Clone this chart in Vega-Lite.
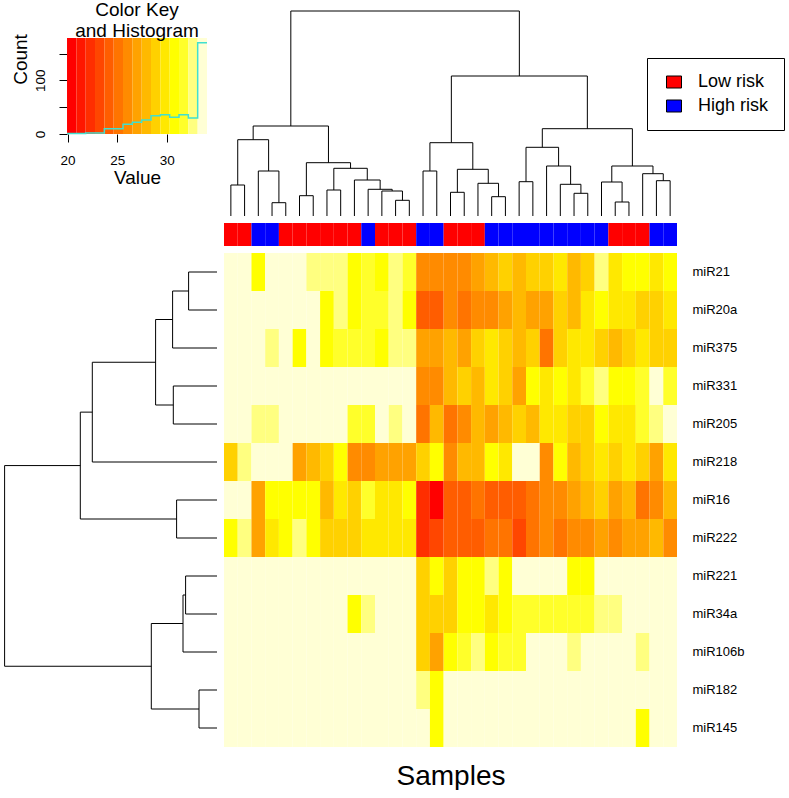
{
  "$schema": "https://vega.github.io/schema/vega-lite/v6.json",
  "padding": 0,
  "background": "white",
  "config": {
    "font": "Liberation Sans",
    "view": {"stroke": null},
    "axis": {"labelColor": "black", "titleColor": "black", "tickColor": "black", "domainColor": "black", "grid": false},
    "title": {"color": "black"}
  },
  "datasets": {
    "heat": [
      {"gene":"miR21","col":1,"value":33.58},{"gene":"miR21","col":2,"value":33.58},{"gene":"miR21","col":3,"value":30.76},{"gene":"miR21","col":4,"value":33.58},{"gene":"miR21","col":5,"value":33.58},{"gene":"miR21","col":6,"value":33.58},{"gene":"miR21","col":7,"value":32.64},{"gene":"miR21","col":8,"value":32.64},{"gene":"miR21","col":9,"value":32.64},{"gene":"miR21","col":10,"value":30.76},{"gene":"miR21","col":11,"value":31.7},{"gene":"miR21","col":12,"value":30.76},{"gene":"miR21","col":13,"value":32.64},{"gene":"miR21","col":14,"value":31.7},{"gene":"miR21","col":15,"value":26.06},{"gene":"miR21","col":16,"value":26.06},{"gene":"miR21","col":17,"value":26.06},{"gene":"miR21","col":18,"value":26.06},{"gene":"miR21","col":19,"value":27},{"gene":"miR21","col":20,"value":27.94},{"gene":"miR21","col":21,"value":28.88},{"gene":"miR21","col":22,"value":27.94},{"gene":"miR21","col":23,"value":28.88},{"gene":"miR21","col":24,"value":28.88},{"gene":"miR21","col":25,"value":29.82},{"gene":"miR21","col":26,"value":27.94},{"gene":"miR21","col":27,"value":28.88},{"gene":"miR21","col":28,"value":32.64},{"gene":"miR21","col":29,"value":29.82},{"gene":"miR21","col":30,"value":30.76},{"gene":"miR21","col":31,"value":30.76},{"gene":"miR21","col":32,"value":29.82},{"gene":"miR21","col":33,"value":30.76},
      {"gene":"miR20a","col":1,"value":33.58},{"gene":"miR20a","col":2,"value":33.58},{"gene":"miR20a","col":3,"value":33.58},{"gene":"miR20a","col":4,"value":33.58},{"gene":"miR20a","col":5,"value":33.58},{"gene":"miR20a","col":6,"value":33.58},{"gene":"miR20a","col":7,"value":33.58},{"gene":"miR20a","col":8,"value":30.76},{"gene":"miR20a","col":9,"value":32.64},{"gene":"miR20a","col":10,"value":30.76},{"gene":"miR20a","col":11,"value":31.7},{"gene":"miR20a","col":12,"value":31.7},{"gene":"miR20a","col":13,"value":32.64},{"gene":"miR20a","col":14,"value":30.76},{"gene":"miR20a","col":15,"value":24.18},{"gene":"miR20a","col":16,"value":24.18},{"gene":"miR20a","col":17,"value":26.06},{"gene":"miR20a","col":18,"value":25.12},{"gene":"miR20a","col":19,"value":26.06},{"gene":"miR20a","col":20,"value":26.06},{"gene":"miR20a","col":21,"value":27},{"gene":"miR20a","col":22,"value":27.94},{"gene":"miR20a","col":23,"value":27},{"gene":"miR20a","col":24,"value":27},{"gene":"miR20a","col":25,"value":28.88},{"gene":"miR20a","col":26,"value":27.94},{"gene":"miR20a","col":27,"value":29.82},{"gene":"miR20a","col":28,"value":30.76},{"gene":"miR20a","col":29,"value":29.82},{"gene":"miR20a","col":30,"value":29.82},{"gene":"miR20a","col":31,"value":28.88},{"gene":"miR20a","col":32,"value":28.88},{"gene":"miR20a","col":33,"value":29.82},
      {"gene":"miR375","col":1,"value":33.58},{"gene":"miR375","col":2,"value":33.58},{"gene":"miR375","col":3,"value":33.58},{"gene":"miR375","col":4,"value":32.64},{"gene":"miR375","col":5,"value":33.58},{"gene":"miR375","col":6,"value":30.76},{"gene":"miR375","col":7,"value":33.58},{"gene":"miR375","col":8,"value":30.76},{"gene":"miR375","col":9,"value":31.7},{"gene":"miR375","col":10,"value":31.7},{"gene":"miR375","col":11,"value":31.7},{"gene":"miR375","col":12,"value":30.76},{"gene":"miR375","col":13,"value":32.64},{"gene":"miR375","col":14,"value":32.64},{"gene":"miR375","col":15,"value":27},{"gene":"miR375","col":16,"value":27},{"gene":"miR375","col":17,"value":27.94},{"gene":"miR375","col":18,"value":27},{"gene":"miR375","col":19,"value":28.88},{"gene":"miR375","col":20,"value":29.82},{"gene":"miR375","col":21,"value":28.88},{"gene":"miR375","col":22,"value":27.94},{"gene":"miR375","col":23,"value":28.88},{"gene":"miR375","col":24,"value":25.12},{"gene":"miR375","col":25,"value":28.88},{"gene":"miR375","col":26,"value":29.82},{"gene":"miR375","col":27,"value":29.82},{"gene":"miR375","col":28,"value":28.88},{"gene":"miR375","col":29,"value":27.94},{"gene":"miR375","col":30,"value":28.88},{"gene":"miR375","col":31,"value":29.82},{"gene":"miR375","col":32,"value":28.88},{"gene":"miR375","col":33,"value":28.88},
      {"gene":"miR331","col":1,"value":33.58},{"gene":"miR331","col":2,"value":33.58},{"gene":"miR331","col":3,"value":33.58},{"gene":"miR331","col":4,"value":33.58},{"gene":"miR331","col":5,"value":33.58},{"gene":"miR331","col":6,"value":33.58},{"gene":"miR331","col":7,"value":33.58},{"gene":"miR331","col":8,"value":33.58},{"gene":"miR331","col":9,"value":33.58},{"gene":"miR331","col":10,"value":33.58},{"gene":"miR331","col":11,"value":33.58},{"gene":"miR331","col":12,"value":33.58},{"gene":"miR331","col":13,"value":33.58},{"gene":"miR331","col":14,"value":33.58},{"gene":"miR331","col":15,"value":26.06},{"gene":"miR331","col":16,"value":26.06},{"gene":"miR331","col":17,"value":27.94},{"gene":"miR331","col":18,"value":28.88},{"gene":"miR331","col":19,"value":27.94},{"gene":"miR331","col":20,"value":29.82},{"gene":"miR331","col":21,"value":28.88},{"gene":"miR331","col":22,"value":27},{"gene":"miR331","col":23,"value":30.76},{"gene":"miR331","col":24,"value":29.82},{"gene":"miR331","col":25,"value":30.76},{"gene":"miR331","col":26,"value":29.82},{"gene":"miR331","col":27,"value":31.7},{"gene":"miR331","col":28,"value":32.64},{"gene":"miR331","col":29,"value":30.76},{"gene":"miR331","col":30,"value":30.76},{"gene":"miR331","col":31,"value":31.7},{"gene":"miR331","col":32,"value":33.58},{"gene":"miR331","col":33,"value":31.7},
      {"gene":"miR205","col":1,"value":33.58},{"gene":"miR205","col":2,"value":33.58},{"gene":"miR205","col":3,"value":32.64},{"gene":"miR205","col":4,"value":32.64},{"gene":"miR205","col":5,"value":33.58},{"gene":"miR205","col":6,"value":33.58},{"gene":"miR205","col":7,"value":33.58},{"gene":"miR205","col":8,"value":33.58},{"gene":"miR205","col":9,"value":33.58},{"gene":"miR205","col":10,"value":31.7},{"gene":"miR205","col":11,"value":31.7},{"gene":"miR205","col":12,"value":33.58},{"gene":"miR205","col":13,"value":32.64},{"gene":"miR205","col":14,"value":33.58},{"gene":"miR205","col":15,"value":25.12},{"gene":"miR205","col":16,"value":27.94},{"gene":"miR205","col":17,"value":25.12},{"gene":"miR205","col":18,"value":26.06},{"gene":"miR205","col":19,"value":27.94},{"gene":"miR205","col":20,"value":27},{"gene":"miR205","col":21,"value":27.94},{"gene":"miR205","col":22,"value":28.88},{"gene":"miR205","col":23,"value":27.94},{"gene":"miR205","col":24,"value":29.82},{"gene":"miR205","col":25,"value":29.82},{"gene":"miR205","col":26,"value":28.88},{"gene":"miR205","col":27,"value":28.88},{"gene":"miR205","col":28,"value":30.76},{"gene":"miR205","col":29,"value":29.82},{"gene":"miR205","col":30,"value":29.82},{"gene":"miR205","col":31,"value":31.7},{"gene":"miR205","col":32,"value":32.64},{"gene":"miR205","col":33,"value":33.58},
      {"gene":"miR218","col":1,"value":28.88},{"gene":"miR218","col":2,"value":32.64},{"gene":"miR218","col":3,"value":33.58},{"gene":"miR218","col":4,"value":33.58},{"gene":"miR218","col":5,"value":33.58},{"gene":"miR218","col":6,"value":27},{"gene":"miR218","col":7,"value":27.94},{"gene":"miR218","col":8,"value":28.88},{"gene":"miR218","col":9,"value":30.76},{"gene":"miR218","col":10,"value":26.06},{"gene":"miR218","col":11,"value":26.06},{"gene":"miR218","col":12,"value":27},{"gene":"miR218","col":13,"value":27},{"gene":"miR218","col":14,"value":27},{"gene":"miR218","col":15,"value":28.88},{"gene":"miR218","col":16,"value":30.76},{"gene":"miR218","col":17,"value":26.06},{"gene":"miR218","col":18,"value":27.94},{"gene":"miR218","col":19,"value":27.94},{"gene":"miR218","col":20,"value":30.76},{"gene":"miR218","col":21,"value":29.82},{"gene":"miR218","col":22,"value":33.58},{"gene":"miR218","col":23,"value":33.58},{"gene":"miR218","col":24,"value":26.06},{"gene":"miR218","col":25,"value":30.76},{"gene":"miR218","col":26,"value":27.94},{"gene":"miR218","col":27,"value":28.88},{"gene":"miR218","col":28,"value":29.82},{"gene":"miR218","col":29,"value":28.88},{"gene":"miR218","col":30,"value":29.82},{"gene":"miR218","col":31,"value":28.88},{"gene":"miR218","col":32,"value":27},{"gene":"miR218","col":33,"value":29.82},
      {"gene":"miR16","col":1,"value":33.58},{"gene":"miR16","col":2,"value":33.58},{"gene":"miR16","col":3,"value":27},{"gene":"miR16","col":4,"value":30.76},{"gene":"miR16","col":5,"value":30.76},{"gene":"miR16","col":6,"value":30.76},{"gene":"miR16","col":7,"value":30.76},{"gene":"miR16","col":8,"value":27.94},{"gene":"miR16","col":9,"value":29.82},{"gene":"miR16","col":10,"value":28.88},{"gene":"miR16","col":11,"value":31.7},{"gene":"miR16","col":12,"value":29.82},{"gene":"miR16","col":13,"value":29.82},{"gene":"miR16","col":14,"value":30.76},{"gene":"miR16","col":15,"value":22.3},{"gene":"miR16","col":16,"value":20.42},{"gene":"miR16","col":17,"value":24.18},{"gene":"miR16","col":18,"value":24.18},{"gene":"miR16","col":19,"value":25.12},{"gene":"miR16","col":20,"value":24.18},{"gene":"miR16","col":21,"value":24.18},{"gene":"miR16","col":22,"value":24.18},{"gene":"miR16","col":23,"value":25.12},{"gene":"miR16","col":24,"value":26.06},{"gene":"miR16","col":25,"value":26.06},{"gene":"miR16","col":26,"value":27},{"gene":"miR16","col":27,"value":27.94},{"gene":"miR16","col":28,"value":28.88},{"gene":"miR16","col":29,"value":27},{"gene":"miR16","col":30,"value":27.94},{"gene":"miR16","col":31,"value":25.12},{"gene":"miR16","col":32,"value":26.06},{"gene":"miR16","col":33,"value":27.94},
      {"gene":"miR222","col":1,"value":30.76},{"gene":"miR222","col":2,"value":32.64},{"gene":"miR222","col":3,"value":27},{"gene":"miR222","col":4,"value":29.82},{"gene":"miR222","col":5,"value":30.76},{"gene":"miR222","col":6,"value":32.64},{"gene":"miR222","col":7,"value":30.76},{"gene":"miR222","col":8,"value":28.88},{"gene":"miR222","col":9,"value":28.88},{"gene":"miR222","col":10,"value":28.88},{"gene":"miR222","col":11,"value":29.82},{"gene":"miR222","col":12,"value":29.82},{"gene":"miR222","col":13,"value":29.82},{"gene":"miR222","col":14,"value":29.82},{"gene":"miR222","col":15,"value":22.3},{"gene":"miR222","col":16,"value":23.24},{"gene":"miR222","col":17,"value":24.18},{"gene":"miR222","col":18,"value":24.18},{"gene":"miR222","col":19,"value":24.18},{"gene":"miR222","col":20,"value":25.12},{"gene":"miR222","col":21,"value":25.12},{"gene":"miR222","col":22,"value":23.24},{"gene":"miR222","col":23,"value":25.12},{"gene":"miR222","col":24,"value":26.06},{"gene":"miR222","col":25,"value":25.12},{"gene":"miR222","col":26,"value":26.06},{"gene":"miR222","col":27,"value":26.06},{"gene":"miR222","col":28,"value":27},{"gene":"miR222","col":29,"value":26.06},{"gene":"miR222","col":30,"value":27},{"gene":"miR222","col":31,"value":27},{"gene":"miR222","col":32,"value":27.94},{"gene":"miR222","col":33,"value":26.06},
      {"gene":"miR221","col":1,"value":33.58},{"gene":"miR221","col":2,"value":33.58},{"gene":"miR221","col":3,"value":33.58},{"gene":"miR221","col":4,"value":33.58},{"gene":"miR221","col":5,"value":33.58},{"gene":"miR221","col":6,"value":33.58},{"gene":"miR221","col":7,"value":33.58},{"gene":"miR221","col":8,"value":33.58},{"gene":"miR221","col":9,"value":33.58},{"gene":"miR221","col":10,"value":33.58},{"gene":"miR221","col":11,"value":33.58},{"gene":"miR221","col":12,"value":33.58},{"gene":"miR221","col":13,"value":33.58},{"gene":"miR221","col":14,"value":33.58},{"gene":"miR221","col":15,"value":28.88},{"gene":"miR221","col":16,"value":30.76},{"gene":"miR221","col":17,"value":28.88},{"gene":"miR221","col":18,"value":30.76},{"gene":"miR221","col":19,"value":30.76},{"gene":"miR221","col":20,"value":32.64},{"gene":"miR221","col":21,"value":30.76},{"gene":"miR221","col":22,"value":33.58},{"gene":"miR221","col":23,"value":33.58},{"gene":"miR221","col":24,"value":33.58},{"gene":"miR221","col":25,"value":33.58},{"gene":"miR221","col":26,"value":30.76},{"gene":"miR221","col":27,"value":30.76},{"gene":"miR221","col":28,"value":33.58},{"gene":"miR221","col":29,"value":33.58},{"gene":"miR221","col":30,"value":33.58},{"gene":"miR221","col":31,"value":33.58},{"gene":"miR221","col":32,"value":33.58},{"gene":"miR221","col":33,"value":33.58},
      {"gene":"miR34a","col":1,"value":33.58},{"gene":"miR34a","col":2,"value":33.58},{"gene":"miR34a","col":3,"value":33.58},{"gene":"miR34a","col":4,"value":33.58},{"gene":"miR34a","col":5,"value":33.58},{"gene":"miR34a","col":6,"value":33.58},{"gene":"miR34a","col":7,"value":33.58},{"gene":"miR34a","col":8,"value":33.58},{"gene":"miR34a","col":9,"value":33.58},{"gene":"miR34a","col":10,"value":30.76},{"gene":"miR34a","col":11,"value":32.64},{"gene":"miR34a","col":12,"value":33.58},{"gene":"miR34a","col":13,"value":33.58},{"gene":"miR34a","col":14,"value":33.58},{"gene":"miR34a","col":15,"value":28.88},{"gene":"miR34a","col":16,"value":28.88},{"gene":"miR34a","col":17,"value":28.88},{"gene":"miR34a","col":18,"value":30.76},{"gene":"miR34a","col":19,"value":30.76},{"gene":"miR34a","col":20,"value":29.82},{"gene":"miR34a","col":21,"value":30.76},{"gene":"miR34a","col":22,"value":31.7},{"gene":"miR34a","col":23,"value":31.7},{"gene":"miR34a","col":24,"value":31.7},{"gene":"miR34a","col":25,"value":31.7},{"gene":"miR34a","col":26,"value":31.7},{"gene":"miR34a","col":27,"value":31.7},{"gene":"miR34a","col":28,"value":32.64},{"gene":"miR34a","col":29,"value":32.64},{"gene":"miR34a","col":30,"value":33.58},{"gene":"miR34a","col":31,"value":33.58},{"gene":"miR34a","col":32,"value":33.58},{"gene":"miR34a","col":33,"value":33.58},
      {"gene":"miR106b","col":1,"value":33.58},{"gene":"miR106b","col":2,"value":33.58},{"gene":"miR106b","col":3,"value":33.58},{"gene":"miR106b","col":4,"value":33.58},{"gene":"miR106b","col":5,"value":33.58},{"gene":"miR106b","col":6,"value":33.58},{"gene":"miR106b","col":7,"value":33.58},{"gene":"miR106b","col":8,"value":33.58},{"gene":"miR106b","col":9,"value":33.58},{"gene":"miR106b","col":10,"value":33.58},{"gene":"miR106b","col":11,"value":33.58},{"gene":"miR106b","col":12,"value":33.58},{"gene":"miR106b","col":13,"value":33.58},{"gene":"miR106b","col":14,"value":33.58},{"gene":"miR106b","col":15,"value":28.88},{"gene":"miR106b","col":16,"value":27},{"gene":"miR106b","col":17,"value":30.76},{"gene":"miR106b","col":18,"value":31.7},{"gene":"miR106b","col":19,"value":32.64},{"gene":"miR106b","col":20,"value":30.76},{"gene":"miR106b","col":21,"value":31.7},{"gene":"miR106b","col":22,"value":31.7},{"gene":"miR106b","col":23,"value":33.58},{"gene":"miR106b","col":24,"value":33.58},{"gene":"miR106b","col":25,"value":33.58},{"gene":"miR106b","col":26,"value":32.64},{"gene":"miR106b","col":27,"value":33.58},{"gene":"miR106b","col":28,"value":33.58},{"gene":"miR106b","col":29,"value":33.58},{"gene":"miR106b","col":30,"value":33.58},{"gene":"miR106b","col":31,"value":32.64},{"gene":"miR106b","col":32,"value":33.58},{"gene":"miR106b","col":33,"value":33.58},
      {"gene":"miR182","col":1,"value":33.58},{"gene":"miR182","col":2,"value":33.58},{"gene":"miR182","col":3,"value":33.58},{"gene":"miR182","col":4,"value":33.58},{"gene":"miR182","col":5,"value":33.58},{"gene":"miR182","col":6,"value":33.58},{"gene":"miR182","col":7,"value":33.58},{"gene":"miR182","col":8,"value":33.58},{"gene":"miR182","col":9,"value":33.58},{"gene":"miR182","col":10,"value":33.58},{"gene":"miR182","col":11,"value":33.58},{"gene":"miR182","col":12,"value":33.58},{"gene":"miR182","col":13,"value":33.58},{"gene":"miR182","col":14,"value":33.58},{"gene":"miR182","col":15,"value":32.64},{"gene":"miR182","col":16,"value":30.76},{"gene":"miR182","col":17,"value":33.58},{"gene":"miR182","col":18,"value":33.58},{"gene":"miR182","col":19,"value":33.58},{"gene":"miR182","col":20,"value":33.58},{"gene":"miR182","col":21,"value":33.58},{"gene":"miR182","col":22,"value":33.58},{"gene":"miR182","col":23,"value":33.58},{"gene":"miR182","col":24,"value":33.58},{"gene":"miR182","col":25,"value":33.58},{"gene":"miR182","col":26,"value":33.58},{"gene":"miR182","col":27,"value":33.58},{"gene":"miR182","col":28,"value":33.58},{"gene":"miR182","col":29,"value":33.58},{"gene":"miR182","col":30,"value":33.58},{"gene":"miR182","col":31,"value":33.58},{"gene":"miR182","col":32,"value":33.58},{"gene":"miR182","col":33,"value":33.58},
      {"gene":"miR145","col":1,"value":33.58},{"gene":"miR145","col":2,"value":33.58},{"gene":"miR145","col":3,"value":33.58},{"gene":"miR145","col":4,"value":33.58},{"gene":"miR145","col":5,"value":33.58},{"gene":"miR145","col":6,"value":33.58},{"gene":"miR145","col":7,"value":33.58},{"gene":"miR145","col":8,"value":33.58},{"gene":"miR145","col":9,"value":33.58},{"gene":"miR145","col":10,"value":33.58},{"gene":"miR145","col":11,"value":33.58},{"gene":"miR145","col":12,"value":33.58},{"gene":"miR145","col":13,"value":33.58},{"gene":"miR145","col":14,"value":33.58},{"gene":"miR145","col":15,"value":33.58},{"gene":"miR145","col":16,"value":30.76},{"gene":"miR145","col":17,"value":33.58},{"gene":"miR145","col":18,"value":33.58},{"gene":"miR145","col":19,"value":33.58},{"gene":"miR145","col":20,"value":33.58},{"gene":"miR145","col":21,"value":33.58},{"gene":"miR145","col":22,"value":33.58},{"gene":"miR145","col":23,"value":33.58},{"gene":"miR145","col":24,"value":33.58},{"gene":"miR145","col":25,"value":33.58},{"gene":"miR145","col":26,"value":33.58},{"gene":"miR145","col":27,"value":33.58},{"gene":"miR145","col":28,"value":33.58},{"gene":"miR145","col":29,"value":33.58},{"gene":"miR145","col":30,"value":33.58},{"gene":"miR145","col":31,"value":30.76},{"gene":"miR145","col":32,"value":33.58},{"gene":"miR145","col":33,"value":33.58}
    ],
    "side": [
      {"col":1,"risk":"Low risk"},{"col":2,"risk":"Low risk"},{"col":3,"risk":"High risk"},{"col":4,"risk":"High risk"},{"col":5,"risk":"Low risk"},{"col":6,"risk":"Low risk"},{"col":7,"risk":"Low risk"},{"col":8,"risk":"Low risk"},{"col":9,"risk":"Low risk"},{"col":10,"risk":"Low risk"},{"col":11,"risk":"High risk"},{"col":12,"risk":"Low risk"},{"col":13,"risk":"Low risk"},{"col":14,"risk":"Low risk"},{"col":15,"risk":"High risk"},{"col":16,"risk":"High risk"},{"col":17,"risk":"Low risk"},{"col":18,"risk":"Low risk"},{"col":19,"risk":"Low risk"},{"col":20,"risk":"High risk"},{"col":21,"risk":"High risk"},{"col":22,"risk":"High risk"},{"col":23,"risk":"High risk"},{"col":24,"risk":"High risk"},{"col":25,"risk":"High risk"},{"col":26,"risk":"High risk"},{"col":27,"risk":"High risk"},{"col":28,"risk":"High risk"},{"col":29,"risk":"Low risk"},{"col":30,"risk":"Low risk"},{"col":31,"risk":"Low risk"},{"col":32,"risk":"High risk"},{"col":33,"risk":"High risk"}
    ],
    "colTree": [
      {"x1":1,"x2":1,"y1":0,"y2":31},{"x1":1,"x2":2,"y1":31,"y2":31},{"x1":2,"x2":2,"y1":0,"y2":31},
      {"x1":4,"x2":4,"y1":0,"y2":13.3},{"x1":4,"x2":5,"y1":13.3,"y2":13.3},{"x1":5,"x2":5,"y1":0,"y2":13.3},
      {"x1":3,"x2":3,"y1":0,"y2":45},{"x1":3,"x2":4.5,"y1":45,"y2":45},{"x1":4.5,"x2":4.5,"y1":13.3,"y2":45},
      {"x1":1.5,"x2":1.5,"y1":31,"y2":76.3},{"x1":1.5,"x2":3.75,"y1":76.3,"y2":76.3},{"x1":3.75,"x2":3.75,"y1":45,"y2":76.3},
      {"x1":6,"x2":6,"y1":0,"y2":20.3},{"x1":6,"x2":7,"y1":20.3,"y2":20.3},{"x1":7,"x2":7,"y1":0,"y2":20.3},
      {"x1":8,"x2":8,"y1":0,"y2":26},{"x1":8,"x2":9,"y1":26,"y2":26},{"x1":9,"x2":9,"y1":0,"y2":26},
      {"x1":13,"x2":13,"y1":0,"y2":15.7},{"x1":13,"x2":14,"y1":15.7,"y2":15.7},{"x1":14,"x2":14,"y1":0,"y2":15.7},
      {"x1":12,"x2":12,"y1":0,"y2":25},{"x1":12,"x2":13.5,"y1":25,"y2":25},{"x1":13.5,"x2":13.5,"y1":15.7,"y2":25},
      {"x1":11,"x2":11,"y1":0,"y2":26.7},{"x1":11,"x2":12.75,"y1":26.7,"y2":26.7},{"x1":12.75,"x2":12.75,"y1":25,"y2":26.7},
      {"x1":10,"x2":10,"y1":0,"y2":36},{"x1":10,"x2":11.875,"y1":36,"y2":36},{"x1":11.875,"x2":11.875,"y1":26.7,"y2":36},
      {"x1":8.5,"x2":8.5,"y1":26,"y2":47.7},{"x1":8.5,"x2":10.9375,"y1":47.7,"y2":47.7},{"x1":10.9375,"x2":10.9375,"y1":36,"y2":47.7},
      {"x1":6.5,"x2":6.5,"y1":20.3,"y2":53.3},{"x1":6.5,"x2":9.71875,"y1":53.3,"y2":53.3},{"x1":9.71875,"x2":9.71875,"y1":47.7,"y2":53.3},
      {"x1":2.625,"x2":2.625,"y1":76.3,"y2":90},{"x1":2.625,"x2":8.109375,"y1":90,"y2":90},{"x1":8.109375,"x2":8.109375,"y1":53.3,"y2":90},
      {"x1":15,"x2":15,"y1":0,"y2":45},{"x1":15,"x2":16,"y1":45,"y2":45},{"x1":16,"x2":16,"y1":0,"y2":45},
      {"x1":17,"x2":17,"y1":0,"y2":23.7},{"x1":17,"x2":18,"y1":23.7,"y2":23.7},{"x1":18,"x2":18,"y1":0,"y2":23.7},
      {"x1":20,"x2":20,"y1":0,"y2":19.3},{"x1":20,"x2":21,"y1":19.3,"y2":19.3},{"x1":21,"x2":21,"y1":0,"y2":19.3},
      {"x1":19,"x2":19,"y1":0,"y2":32.7},{"x1":19,"x2":20.5,"y1":32.7,"y2":32.7},{"x1":20.5,"x2":20.5,"y1":19.3,"y2":32.7},
      {"x1":17.5,"x2":17.5,"y1":23.7,"y2":46.7},{"x1":17.5,"x2":19.75,"y1":46.7,"y2":46.7},{"x1":19.75,"x2":19.75,"y1":32.7,"y2":46.7},
      {"x1":15.5,"x2":15.5,"y1":45,"y2":73.3},{"x1":15.5,"x2":18.625,"y1":73.3,"y2":73.3},{"x1":18.625,"x2":18.625,"y1":46.7,"y2":73.3},
      {"x1":22,"x2":22,"y1":0,"y2":34.3},{"x1":22,"x2":23,"y1":34.3,"y2":34.3},{"x1":23,"x2":23,"y1":0,"y2":34.3},
      {"x1":26,"x2":26,"y1":0,"y2":22.7},{"x1":26,"x2":27,"y1":22.7,"y2":22.7},{"x1":27,"x2":27,"y1":0,"y2":22.7},
      {"x1":25,"x2":25,"y1":0,"y2":31.7},{"x1":25,"x2":26.5,"y1":31.7,"y2":31.7},{"x1":26.5,"x2":26.5,"y1":22.7,"y2":31.7},
      {"x1":24,"x2":24,"y1":0,"y2":50},{"x1":24,"x2":25.75,"y1":50,"y2":50},{"x1":25.75,"x2":25.75,"y1":31.7,"y2":50},
      {"x1":22.5,"x2":22.5,"y1":34.3,"y2":68.7},{"x1":22.5,"x2":24.875,"y1":68.7,"y2":68.7},{"x1":24.875,"x2":24.875,"y1":50,"y2":68.7},
      {"x1":29,"x2":29,"y1":0,"y2":14},{"x1":29,"x2":30,"y1":14,"y2":14},{"x1":30,"x2":30,"y1":0,"y2":14},
      {"x1":28,"x2":28,"y1":0,"y2":34},{"x1":28,"x2":29.5,"y1":34,"y2":34},{"x1":29.5,"x2":29.5,"y1":14,"y2":34},
      {"x1":32,"x2":32,"y1":0,"y2":35.3},{"x1":32,"x2":33,"y1":35.3,"y2":35.3},{"x1":33,"x2":33,"y1":0,"y2":35.3},
      {"x1":31,"x2":31,"y1":0,"y2":42.3},{"x1":31,"x2":32.5,"y1":42.3,"y2":42.3},{"x1":32.5,"x2":32.5,"y1":35.3,"y2":42.3},
      {"x1":28.75,"x2":28.75,"y1":34,"y2":50},{"x1":28.75,"x2":31.75,"y1":50,"y2":50},{"x1":31.75,"x2":31.75,"y1":42.3,"y2":50},
      {"x1":23.6875,"x2":23.6875,"y1":68.7,"y2":87.3},{"x1":23.6875,"x2":30.25,"y1":87.3,"y2":87.3},{"x1":30.25,"x2":30.25,"y1":50,"y2":87.3},
      {"x1":17.0625,"x2":17.0625,"y1":73.3,"y2":140},{"x1":17.0625,"x2":26.96875,"y1":140,"y2":140},{"x1":26.96875,"x2":26.96875,"y1":87.3,"y2":140},
      {"x1":5.3671875,"x2":5.3671875,"y1":90,"y2":205},{"x1":5.3671875,"x2":22.015625,"y1":205,"y2":205},{"x1":22.015625,"x2":22.015625,"y1":140,"y2":205}
    ],
    "rowTree": [
      {"p1":1,"p2":1,"h1":0,"h2":28.4},{"p1":1,"p2":2,"h1":28.4,"h2":28.4},{"p1":2,"p2":2,"h1":0,"h2":28.4},
      {"p1":1.5,"p2":1.5,"h1":28.4,"h2":44.4},{"p1":1.5,"p2":3,"h1":44.4,"h2":44.4},{"p1":3,"p2":3,"h1":0,"h2":44.4},
      {"p1":4,"p2":4,"h1":0,"h2":43.7},{"p1":4,"p2":5,"h1":43.7,"h2":43.7},{"p1":5,"p2":5,"h1":0,"h2":43.7},
      {"p1":2.25,"p2":2.25,"h1":44.4,"h2":61.4},{"p1":2.25,"p2":4.5,"h1":61.4,"h2":61.4},{"p1":4.5,"p2":4.5,"h1":43.7,"h2":61.4},
      {"p1":3.375,"p2":3.375,"h1":61.4,"h2":124.7},{"p1":3.375,"p2":6,"h1":124.7,"h2":124.7},{"p1":6,"p2":6,"h1":0,"h2":124.7},
      {"p1":7,"p2":7,"h1":0,"h2":40.4},{"p1":7,"p2":8,"h1":40.4,"h2":40.4},{"p1":8,"p2":8,"h1":0,"h2":40.4},
      {"p1":4.6875,"p2":4.6875,"h1":124.7,"h2":136.7},{"p1":4.6875,"p2":7.5,"h1":136.7,"h2":136.7},{"p1":7.5,"p2":7.5,"h1":40.4,"h2":136.7},
      {"p1":9,"p2":9,"h1":0,"h2":31.4},{"p1":9,"p2":10,"h1":31.4,"h2":31.4},{"p1":10,"p2":10,"h1":0,"h2":31.4},
      {"p1":9.5,"p2":9.5,"h1":31.4,"h2":34},{"p1":9.5,"p2":11,"h1":34,"h2":34},{"p1":11,"p2":11,"h1":0,"h2":34},
      {"p1":12,"p2":12,"h1":0,"h2":18},{"p1":12,"p2":13,"h1":18,"h2":18},{"p1":13,"p2":13,"h1":0,"h2":18},
      {"p1":10.25,"p2":10.25,"h1":34,"h2":65.7},{"p1":10.25,"p2":12.5,"h1":65.7,"h2":65.7},{"p1":12.5,"p2":12.5,"h1":18,"h2":65.7},
      {"p1":6.09375,"p2":6.09375,"h1":136.7,"h2":212.4},{"p1":6.09375,"p2":11.375,"h1":212.4,"h2":212.4},{"p1":11.375,"p2":11.375,"h1":65.7,"h2":212.4}
    ],
    "keyBins": [
      {"lo":19.95,"hi":20.89,"mid":20.42},{"lo":20.89,"hi":21.83,"mid":21.36},{"lo":21.83,"hi":22.77,"mid":22.3},{"lo":22.77,"hi":23.71,"mid":23.24},{"lo":23.71,"hi":24.65,"mid":24.18},{"lo":24.65,"hi":25.59,"mid":25.12},{"lo":25.59,"hi":26.53,"mid":26.06},{"lo":26.53,"hi":27.47,"mid":27},{"lo":27.47,"hi":28.41,"mid":27.94},{"lo":28.41,"hi":29.35,"mid":28.88},{"lo":29.35,"hi":30.29,"mid":29.82},{"lo":30.29,"hi":31.23,"mid":30.76},{"lo":31.23,"hi":32.17,"mid":31.7},{"lo":32.17,"hi":33.11,"mid":32.64},{"lo":33.11,"hi":34.05,"mid":33.58}
    ],
    "hist": [
      {"b":19.95,"n":1},{"b":20.89,"n":1},{"b":21.83,"n":2},{"b":22.77,"n":2},{"b":23.71,"n":10},{"b":24.65,"n":10},{"b":25.59,"n":18},{"b":26.53,"n":22},{"b":27.47,"n":26},{"b":28.41,"n":34},{"b":29.35,"n":36},{"b":30.29,"n":31},{"b":31.23,"n":36},{"b":32.17,"n":30},{"b":33.11,"n":170},{"b":34.05,"n":170}
    ]
  },
  "columns": 2,
  "spacing": 7,
  "bounds": "flush",
  "resolve": {"scale": {"x": "independent", "y": "independent", "color": "independent"}, "legend": {"color": "independent"}},
  "concat": [
    {"width": 217, "height": 4, "data": {"values": []}, "mark": "point"},
    {"width": 453, "height": 4, "data": {"values": []}, "mark": "point"},
    {
      "width": 207,
      "height": 123,
      "title": {"text": ["Color Key", "and Histogram"], "fontSize": 19, "fontWeight": "normal", "baseline": "bottom", "offset": -49, "dx": 33.5, "lineHeight": 21.3, "anchor": "middle"},
      "layer": [
        {
          "data": {"name": "keyBins"},
          "mark": {"type": "rect"},
          "encoding": {
            "x": {"field": "lo", "type": "quantitative", "scale": {"domain": [13.2, 34.05], "nice": false, "zero": false},
                  "axis": {"values": [20, 25, 30], "title": "Value", "titleFontSize": 19, "titleFontWeight": "normal", "titleX": 137, "labelFontSize": 13.5, "tickSize": 8, "labelPadding": 11, "titlePadding": 2, "domain": false}},
            "x2": {"field": "hi"},
            "y": {"datum": 0, "type": "quantitative", "scale": {"domain": [0, 229.3], "nice": false},
                  "axis": {"values": [0, 50, 100, 150], "offset": -67, "labelExpr": "datum.value == 0 || datum.value == 100 ? datum.label : ''", "labelAngle": 270, "labelAlign": "center", "labelBaseline": "bottom", "labelFontSize": 13.5, "tickSize": 8, "labelPadding": 12, "title": "Count", "titleY": 48, "titleFontSize": 19, "titleFontWeight": "normal", "titlePadding": 3, "domain": false}},
            "y2": {"datum": 179},
            "color": {"field": "mid", "type": "quantitative", "scale": {"type": "quantize", "domain": [19.95, 34.05], "range": ["#FF0000","#FF1700","#FF2E00","#FF4600","#FF5D00","#FF7400","#FF8B00","#FFA200","#FFB900","#FFD100","#FFE800","#FFFF00","#FFFF2A","#FFFF80","#FFFFD5"]}, "legend": null}
          }
        },
        {
          "data": {"name": "hist"},
          "mark": {"type": "line", "interpolate": "step-after", "color": "#40E0D0", "strokeWidth": 1.5},
          "encoding": {
            "x": {"field": "b", "type": "quantitative"},
            "y": {"field": "n", "type": "quantitative"}
          }
        }
      ]
    },
    {
      "width": 453,
      "height": 205,
      "data": {"name": "colTree"},
      "mark": {"type": "rule", "color": "black", "strokeWidth": 1},
      "encoding": {
        "x": {"field": "x1", "type": "quantitative", "scale": {"domain": [0.5, 33.5], "nice": false, "zero": false}, "axis": null},
        "x2": {"field": "x2"},
        "y": {"field": "y1", "type": "quantitative", "scale": {"domain": [0, 205], "nice": false}, "axis": null},
        "y2": {"field": "y2"}
      }
    },
    {"width": 217, "height": 23, "data": {"values": []}, "mark": "point"},
    {
      "width": 453,
      "height": 23,
      "data": {"name": "side"},
      "mark": {"type": "rect"},
      "encoding": {
        "x": {"field": "col", "type": "ordinal", "scale": {"paddingInner": 0, "paddingOuter": 0}, "axis": null},
        "color": {"field": "risk", "type": "nominal", "scale": {"domain": ["Low risk", "High risk"], "range": ["#FF0000", "#0000FF"]},
                  "legend": {"title": null, "orient": "none", "legendX": 423, "legendY": -165, "direction": "vertical", "strokeColor": "black", "fillColor": "white", "padding": 15, "symbolType": "M-1,-0.8H1V0.8H-1Z", "symbolSize": 225, "symbolStrokeColor": "black", "symbolStrokeWidth": 1, "symbolOffset": 3, "symbolOpacity": 1, "labelFontSize": 18, "labelOffset": 15, "rowPadding": 6, "labelColor": "black", "cornerRadius": 0}}
      }
    },
    {
      "width": 217,
      "height": 494,
      "data": {"name": "rowTree"},
      "mark": {"type": "rule", "color": "black", "strokeWidth": 1},
      "encoding": {
        "x": {"field": "h1", "type": "quantitative", "scale": {"domain": [0, 217], "nice": false, "reverse": true}, "axis": null},
        "x2": {"field": "h2"},
        "y": {"field": "p1", "type": "quantitative", "scale": {"domain": [0.5, 13.5], "nice": false, "zero": false, "reverse": true}, "axis": null},
        "y2": {"field": "p2"}
      }
    },
    {
      "width": 453,
      "height": 494,
      "data": {"name": "heat"},
      "mark": {"type": "rect"},
      "encoding": {
        "x": {"field": "col", "type": "ordinal", "scale": {"paddingInner": 0, "paddingOuter": 0},
              "axis": {"labels": false, "ticks": false, "domain": false, "title": "Samples", "titleFontSize": 28, "titleFontWeight": "normal", "titlePadding": 15}},
        "y": {"field": "gene", "type": "ordinal", "sort": ["miR21","miR20a","miR375","miR331","miR205","miR218","miR16","miR222","miR221","miR34a","miR106b","miR182","miR145"], "scale": {"paddingInner": 0, "paddingOuter": 0},
              "axis": {"orient": "right", "title": null, "ticks": false, "domain": false, "labelFontSize": 13, "labelPadding": 15}},
        "color": {"field": "value", "type": "quantitative", "scale": {"type": "quantize", "domain": [19.95, 34.05], "range": ["#FF0000","#FF1700","#FF2E00","#FF4600","#FF5D00","#FF7400","#FF8B00","#FFA200","#FFB900","#FFD100","#FFE800","#FFFF00","#FFFF2A","#FFFF80","#FFFFD5"]}, "legend": null}
      }
    }
  ]
}
